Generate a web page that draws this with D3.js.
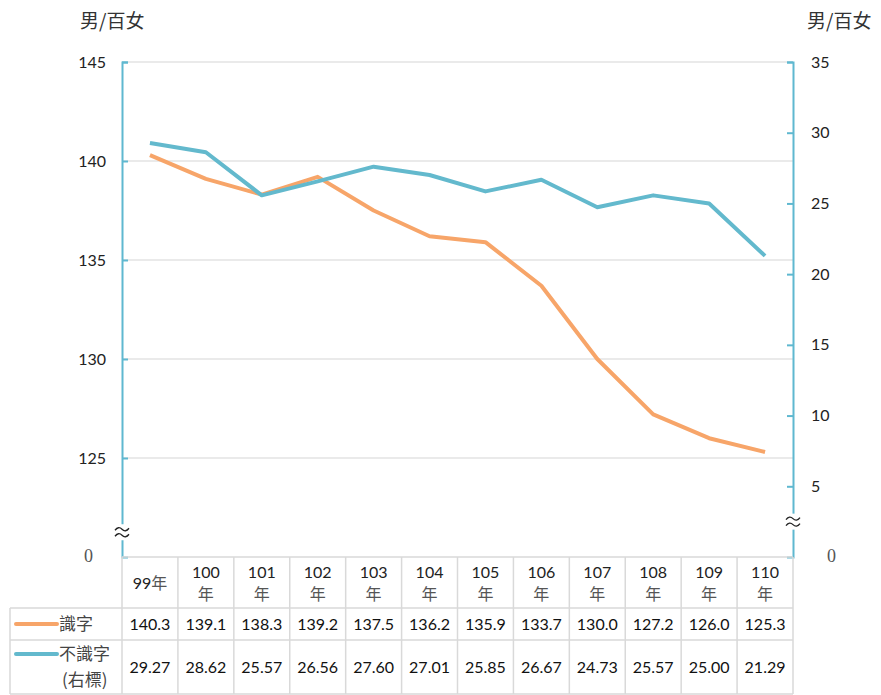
<!DOCTYPE html>
<html>
<head>
<meta charset="utf-8">
<script src="https://cdn.jsdelivr.net/npm/d3@7"></script>
<style>
  body { margin: 0; background: #fff; }
  svg text { font-family: Lato, "Noto Sans CJK TC", sans-serif; }
</style>
</head>
<body>
<script>
// years and the two series (left axis: literate, right axis: illiterate)
var years = ['99年', '100年', '101年', '102年', '103年', '104年', '105年', '106年', '107年', '108年', '109年', '110年']
var literate = [140.3, 139.1, 138.3, 139.2, 137.5, 136.2, 135.9, 133.7, 130.0, 127.2, 126.0, 125.3]
var illiterate = [29.27, 28.62, 25.57, 26.56, 27.60, 27.01, 25.85, 26.67, 24.73, 25.57, 25.00, 21.29]
var leftTicks = [120, 125, 130, 135, 140, 145]
var rightTicks = [0, 5, 10, 15, 20, 25, 30, 35]
var seriesNames = ['識字', '不識字']

var W = 881, H = 695
// note: "top" is a reserved window global, so plot edges get their own names
var plotL = 122, plotR = 793, plotT = 62, plotB = 557
var orange = '#f7a569', blue = '#63b9cd', axisColor = '#5fb8d0', grid = '#d6d6d6'
var cjk = '"Noto Sans CJK TC", sans-serif'

var svg = d3.select('body').append('svg')
    .attr('width', W)
    .attr('height', H)

var x = d3.scaleBand().domain(years).range([plotL, plotR]).padding(0)
var yL = d3.scaleLinear().domain([120, 145]).range([plotB, plotT])
var yR = d3.scaleLinear().domain([0, 35]).range([plotB, plotT])

// gridlines
svg.append('g')
  .selectAll('line')
    .data(leftTicks.slice(1))
    .enter()
  .append('line')
    .attr('x1', plotL).attr('x2', plotR)
    .attr('y1', function (d) { return yL(d) })
    .attr('y2', function (d) { return yL(d) })
    .attr('stroke', grid)
    .attr('stroke-width', 1.2)

// left axis
var gL = svg.append('g')
    .attr('transform', 'translate(' + plotL + ',0)')
    .call(d3.axisLeft(yL).tickValues(leftTicks).tickSize(-6).tickPadding(16)
      .tickFormat(function (d) { return d == 120 ? '0' : d }))
gL.select('.domain').attr('stroke', axisColor).attr('stroke-width', 2)
gL.selectAll('.tick line').attr('stroke', axisColor).attr('stroke-width', 2)
  .filter(function (d) { return d == 120 }).remove()
gL.selectAll('.tick text').attr('font-size', 16).attr('fill', '#222')
gL.selectAll('.tick text').filter(function (d) { return d == 120 })
  .style('font-family', '"Liberation Serif", serif').attr('font-size', 18)
  .attr('fill', '#555').attr('x', -29).attr('dy', '0.25em')

// right axis
var gR = svg.append('g')
    .attr('transform', 'translate(' + plotR + ',0)')
    .call(d3.axisRight(yR).tickValues(rightTicks).tickSize(-6).tickPadding(18))
gR.select('.domain').attr('stroke', axisColor).attr('stroke-width', 2)
gR.selectAll('.tick line').attr('stroke', axisColor).attr('stroke-width', 2)
  .filter(function (d) { return d == 0 }).remove()
gR.selectAll('.tick text').attr('font-size', 16).attr('fill', '#222')
gR.selectAll('.tick text').filter(function (d) { return d == 0 })
  .style('font-family', '"Liberation Serif", serif').attr('font-size', 18)
  .attr('fill', '#555').attr('x', 34).attr('dy', '0.25em')

// axis break marks (two small waves over a gap in the axis)
function axisBreak(cx, cy) {
  svg.append('rect').attr('x', cx - 4).attr('y', cy - 8).attr('width', 8).attr('height', 16).attr('fill', '#fff')
  ;[-3, 3].forEach(function (o) {
    svg.append('path')
      .attr('d', 'M' + (cx - 7) + ',' + (cy + o + 1) + ' q3.5,-4.5 7,-1 t7,-1')
      .attr('fill', 'none').attr('stroke', '#222').attr('stroke-width', 1.3)
  })
}
axisBreak(plotL, yL(121.25))
axisBreak(plotR, yR(2.5))

// unit labels
svg.append('text').attr('x', 80).attr('y', 28).attr('font-size', 19).attr('fill', '#333')
  .style('font-family', cjk).text('男/百女')
svg.append('text').attr('x', 807).attr('y', 28).attr('font-size', 19).attr('fill', '#333')
  .style('font-family', cjk).text('男/百女')

// lines
var lineL = d3.line()
    .x(function (d, i) { return x(years[i]) + x.bandwidth() / 2 })
    .y(function (d) { return yL(d) })
var lineR = d3.line()
    .x(function (d, i) { return x(years[i]) + x.bandwidth() / 2 })
    .y(function (d) { return yR(d) })
svg.append('path').datum(literate).attr('d', lineL)
    .attr('fill', 'none').attr('stroke', orange).attr('stroke-width', 4).attr('stroke-linejoin', 'round')
svg.append('path').datum(illiterate).attr('d', lineR)
    .attr('fill', 'none').attr('stroke', blue).attr('stroke-width', 4).attr('stroke-linejoin', 'round')

// data table
var tableLeft = 10
var rows = [plotB, 608, 640, 694]
var tbl = svg.append('g')
var border = '#d9d9d9'
// horizontal rules
tbl.append('line').attr('x1', plotL).attr('x2', plotR).attr('y1', rows[0]).attr('y2', rows[0]).attr('stroke', border).attr('stroke-width', 1.5)
rows.slice(1).forEach(function (r) {
  tbl.append('line').attr('x1', tableLeft).attr('x2', plotR).attr('y1', r).attr('y2', r).attr('stroke', border).attr('stroke-width', 1.5)
})
// vertical rules
tbl.append('line').attr('x1', tableLeft).attr('x2', tableLeft).attr('y1', rows[1]).attr('y2', rows[3]).attr('stroke', border).attr('stroke-width', 1.5)
tbl.selectAll('.vr')
    .data(years.slice(1).concat(['end']))
    .enter()
  .append('line')
    .attr('x1', function (d) { return d == 'end' ? plotR : x(d) })
    .attr('x2', function (d) { return d == 'end' ? plotR : x(d) })
    .attr('y1', rows[0]).attr('y2', rows[3])
    .attr('stroke', border).attr('stroke-width', 1.5)
tbl.append('line').attr('x1', plotL).attr('x2', plotL).attr('y1', rows[0]).attr('y2', rows[3]).attr('stroke', border).attr('stroke-width', 1.5)

// header cells
tbl.selectAll('.hd')
    .data(years)
    .enter()
  .append('text')
    .attr('x', function (d) { return x(d) + x.bandwidth() / 2 })
    .attr('text-anchor', 'middle')
    .attr('font-size', 16)
    .attr('fill', '#222')
    .each(function (d) {
      var t = d3.select(this)
      var num = d.replace('年', '')
      if (num.length < 3) {
        t.attr('y', 589)
        t.append('tspan').text(num)
        t.append('tspan').style('font-family', cjk).attr('fill', '#555').text('年')
      } else {
        t.attr('y', 578)
        t.append('tspan').text(num)
        t.append('tspan').attr('x', x(d) + x.bandwidth() / 2).attr('dy', 22)
          .style('font-family', cjk).attr('fill', '#555').text('年')
      }
    })

// value rows
tbl.selectAll('.v1')
    .data(literate)
    .enter()
  .append('text')
    .attr('x', function (d, i) { return x(years[i]) + x.bandwidth() / 2 })
    .attr('y', 630)
    .attr('text-anchor', 'middle').attr('font-size', 16).attr('fill', '#111')
    .text(function (d) { return d.toFixed(1) })
tbl.selectAll('.v2')
    .data(illiterate)
    .enter()
  .append('text')
    .attr('x', function (d, i) { return x(years[i]) + x.bandwidth() / 2 })
    .attr('y', 673)
    .attr('text-anchor', 'middle').attr('font-size', 16).attr('fill', '#111')
    .text(function (d) { return d.toFixed(2) })

// legend keys in the first column
tbl.append('line').attr('x1', 16).attr('x2', 57).attr('y1', 624).attr('y2', 624)
    .attr('stroke', orange).attr('stroke-width', 4).attr('stroke-linecap', 'round')
tbl.append('text').attr('x', 59).attr('y', 630).attr('font-size', 17).attr('fill', '#444')
    .style('font-family', cjk).text(seriesNames[0])
tbl.append('line').attr('x1', 16).attr('x2', 57).attr('y1', 654).attr('y2', 654)
    .attr('stroke', blue).attr('stroke-width', 4).attr('stroke-linecap', 'round')
tbl.append('text').attr('x', 59).attr('y', 660).attr('font-size', 17).attr('fill', '#444')
    .style('font-family', cjk).text(seriesNames[1])
tbl.append('text').attr('x', 62).attr('y', 686).attr('font-size', 17).attr('fill', '#444')
    .style('font-family', cjk).text('(右標)')
</script>
</body>
</html>
